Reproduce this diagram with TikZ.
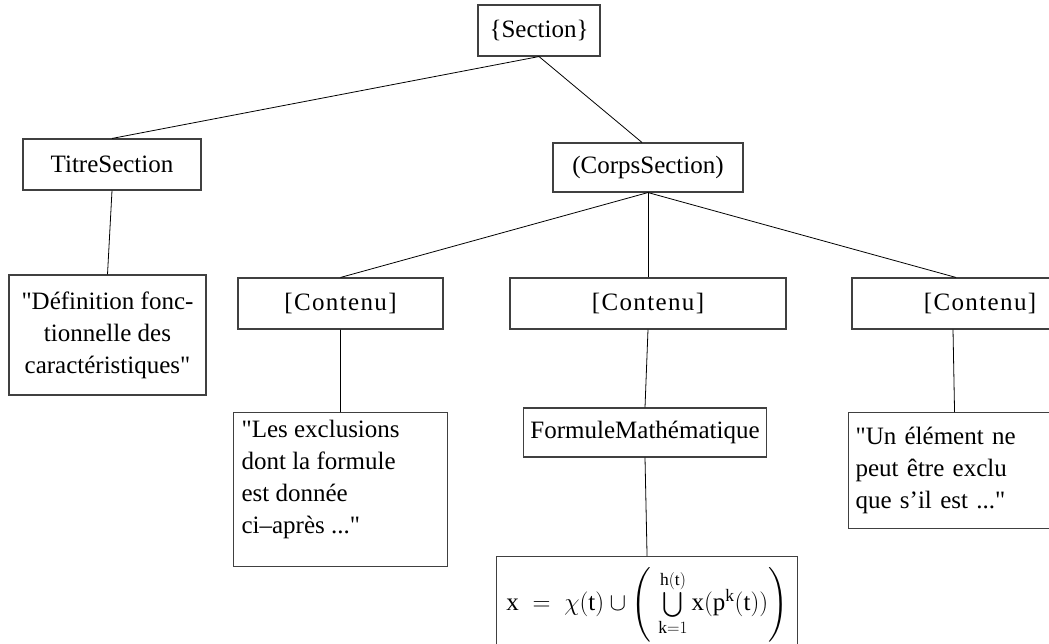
\documentclass[tikz,border=0pt]{standalone}
\usepackage{amsmath}
\usepackage{fontspec}
\setmainfont{Liberation Serif}
\begin{document}
\begin{tikzpicture}[x=1pt,y=-1pt,
        every node/.style={font=\fontsize{25}{32}\selectfont},
        box/.style={draw=black!75,line width=1.1pt,inner sep=4pt},
        link/.style={line width=0.8pt}]
\useasboundingbox (0,0) rectangle (1049,643);

\node[box, minimum width=122, minimum height=51] (sec) at (539,30.5) {\{Section\}};
\node[box, minimum width=178, minimum height=51] (tit) at (112,164.5) {TitreSection};
\node[box, minimum width=190, minimum height=49] (corps) at (648,167.5) {(CorpsSection)};

\node[box, minimum width=197, minimum height=120, align=center] (def) at (107.5,335)
    {\textquotedbl Définition fonc-\\ tionnelle des\\ caractéristiques\textquotedbl};

\node[box, minimum width=205, minimum height=51] (c1) at (340.5,303.5) {\addfontfeature{LetterSpace=5.5}[Contenu]};
\node[box, minimum width=276, minimum height=51] (c2) at (648,303.5) {\addfontfeature{LetterSpace=5.5}[Contenu]};
\node[box, minimum width=256, minimum height=51] (c3) at (980,303.5) {\addfontfeature{LetterSpace=5.5}[Contenu]};

\node[box, anchor=north west, inner sep=8pt] (excl) at (233,412)
    {\parbox[c][138pt][t]{198pt}{\raggedright \textquotedbl Les exclusions\\ dont la formule\\ est donnée\\ ci–après ...\textquotedbl}};
\node[box, minimum width=243, minimum height=49] (form) at (645,432.5) {FormuleMathématique};
\node[box, anchor=north west, text width=198, inner xsep=7pt, minimum height=116, align=left] (un) at (848,412)
    {\textquotedbl Un élément ne\\ peut être exclu\\ que s’il est ...\textquotedbl};

\node[box, anchor=north west, minimum width=301, minimum height=96, inner xsep=4pt] (math) at (496,556)
    {$\mathrm{x} \;=\; \chi(\mathrm{t}) \cup \left(\;\bigcup\limits_{\mathrm{k}=1}^{\mathrm{h(t)}} \mathrm{x}(\mathrm{p}^{\mathrm{k}}(\mathrm{t}))\right)$};

\draw[link] (sec.south) -- (tit.north);
\draw[link] (sec.south) -- ([xshift=-6pt]corps.north);
\draw[link] (tit.south) -- (def.north);
\draw[link] (corps.south) -- (c1.north);
\draw[link] (corps.south) -- (c2.north);
\draw[link] (corps.south) -- ([xshift=-24pt]c3.north);
\draw[link] (c1.south) -- (excl.north);
\draw[link] (c2.south) -- (form.north);
\draw[link] ([xshift=-27pt]c3.south) -- (un.north);
\draw[link] (form.south) -- (math.north);

\end{tikzpicture}
\end{document}
